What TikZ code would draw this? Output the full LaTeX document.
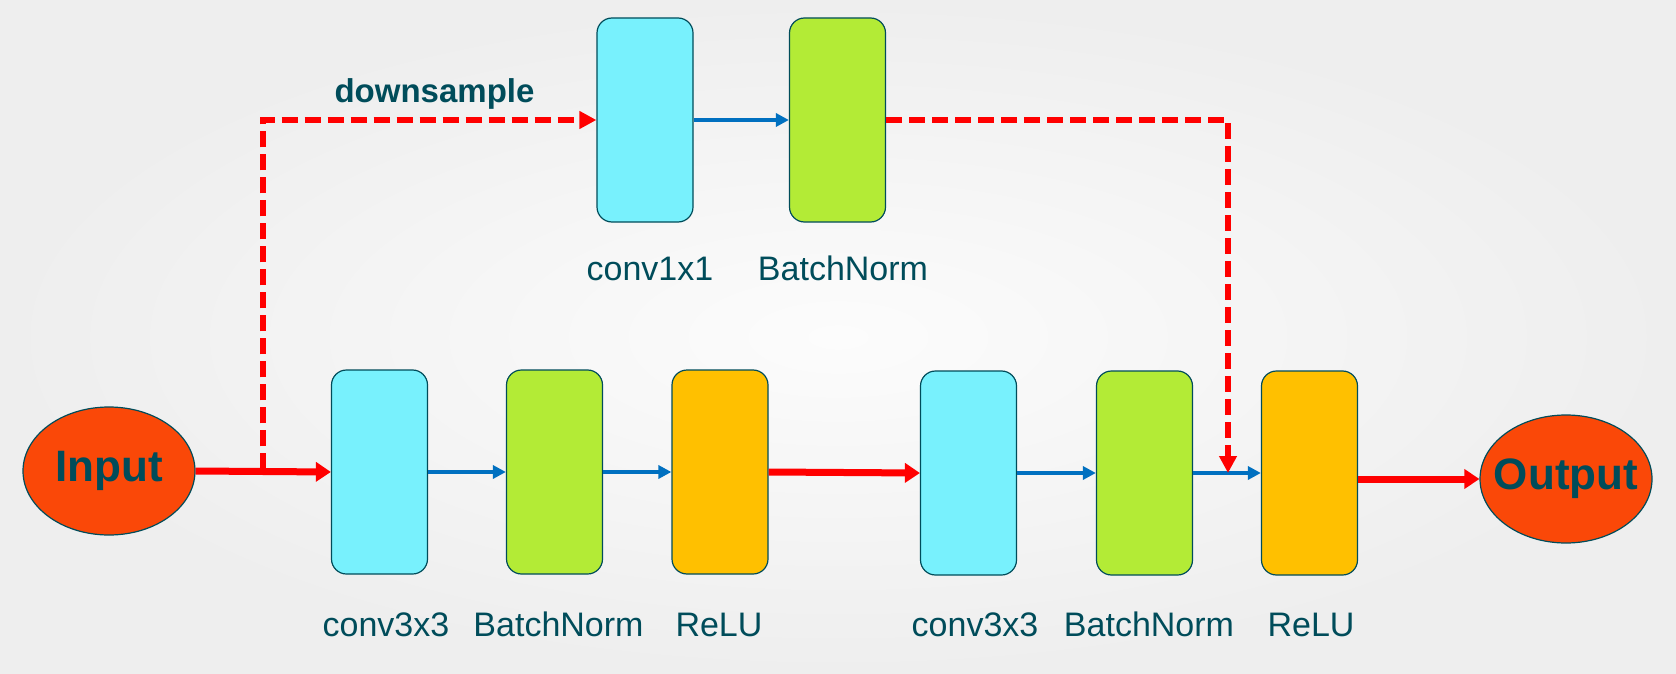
\documentclass[tikz,border=0pt]{standalone}
\usepackage{fontspec}
\setmainfont{Liberation Sans}
\usetikzlibrary{arrows.meta,shapes.geometric}
\definecolor{textc}{RGB}{0,76,90}
\definecolor{cyanbox}{RGB}{120,241,253}
\definecolor{greenbox}{RGB}{179,235,54}
\definecolor{orangebox}{RGB}{255,192,0}
\definecolor{ellfill}{RGB}{250,72,8}
\definecolor{bluel}{RGB}{0,112,192}
\definecolor{redl}{RGB}{255,0,0}
\definecolor{bgin}{RGB}{252,252,252}
\definecolor{bgout}{RGB}{238,238,238}
\tikzset{
  layer/.style={draw=textc, line width=1.2pt, rounded corners=15pt,
    minimum width=96pt, minimum height=204pt, inner sep=0pt},
  convbox/.style={layer, fill=cyanbox},
  bnbox/.style={layer, fill=greenbox},
  relubox/.style={layer, fill=orangebox},
  endell/.style={ellipse, draw=textc, line width=1.2pt, fill=ellfill,
    minimum width=172pt, minimum height=128pt, inner sep=0pt},
  endtext/.style={font=\fontsize{44}{50}\selectfont\bfseries, text=textc, inner sep=0pt},
  lbl/.style={anchor=base, font=\fontsize{34}{40}\selectfont, text=textc, inner sep=0pt},
  bluearrow/.style={draw=bluel, line width=4pt, -{Triangle[length=13pt,width=13pt]}},
  redarrow/.style={draw=redl, line width=7pt, -{Triangle[length=15pt,width=19pt]}},
  reddash/.style={draw=redl, line width=6pt, dash pattern=on 16pt off 7pt}
}
\begin{document}
\begin{tikzpicture}[x=1pt,y=-1pt]
\useasboundingbox (0,0) rectangle (1676,674);
\shade[inner color=bgin, outer color=bgout] (0,0) rectangle (1676,674);

% nodes
\node[endell] (in) at (109,471) {};
\node[endtext] (intext) at (in) {Input};
\node[endell] (out) at (1566,479) {};
\node[endtext] (outtext) at (out) {Output};

\node[convbox] (c1) at (379.5,472) {};
\node[bnbox] (b1) at (554.5,472) {};
\node[relubox] (r1) at (720,472) {};
\node[convbox] (c2) at (968.5,473) {};
\node[bnbox] (b2) at (1144.5,473) {};
\node[relubox] (r2) at (1309.5,473) {};

\node[convbox] (c0) at (645,120) {};
\node[bnbox] (b0) at (837.5,120) {};

% labels
\node[lbl] (lc1) at (386,636) {conv3x3};
\node[lbl] (lb1) at (558.5,636) {BatchNorm};
\node[lbl] (lr1) at (719,636) {ReLU};
\node[lbl] (lc2) at (975,636) {conv3x3};
\node[lbl] (lb2) at (1149,636) {BatchNorm};
\node[lbl] (lr2) at (1311,636) {ReLU};
\node[lbl] (lc0) at (650,280) {conv1x1};
\node[lbl] (lb0) at (843,280) {BatchNorm};
\node[lbl, font=\fontsize{33}{38}\selectfont\bfseries] (ds) at (434.5,103) {downsample};

% coordinates
\coordinate (d1) at (263,120);
\coordinate (d2) at (1228,473);

% main path
\draw[redarrow] (in.east) -- (c1.west);
\draw[bluearrow] (c1.east) -- (b1.west);
\draw[bluearrow] (b1.east) -- (r1.west);
\draw[redarrow] (r1.east) -- (c2.west);
\draw[bluearrow] (c2.east) -- (b2.west);
\draw[bluearrow] (b2.east) -- (r2.west);
\draw[redarrow] (r2.east |- out.west) -- (out.west);

% downsample path
\draw[reddash, -{Triangle[length=17pt,width=17pt]}] (in.east) -| (d1) -- (c0.west);
\draw[bluearrow, line width=3.5pt] (c0.east) -- (b0.west);
\draw[reddash, -{Triangle[length=17pt,width=17pt]}] (b0.east) -| (d2);
\end{tikzpicture}
\end{document}
